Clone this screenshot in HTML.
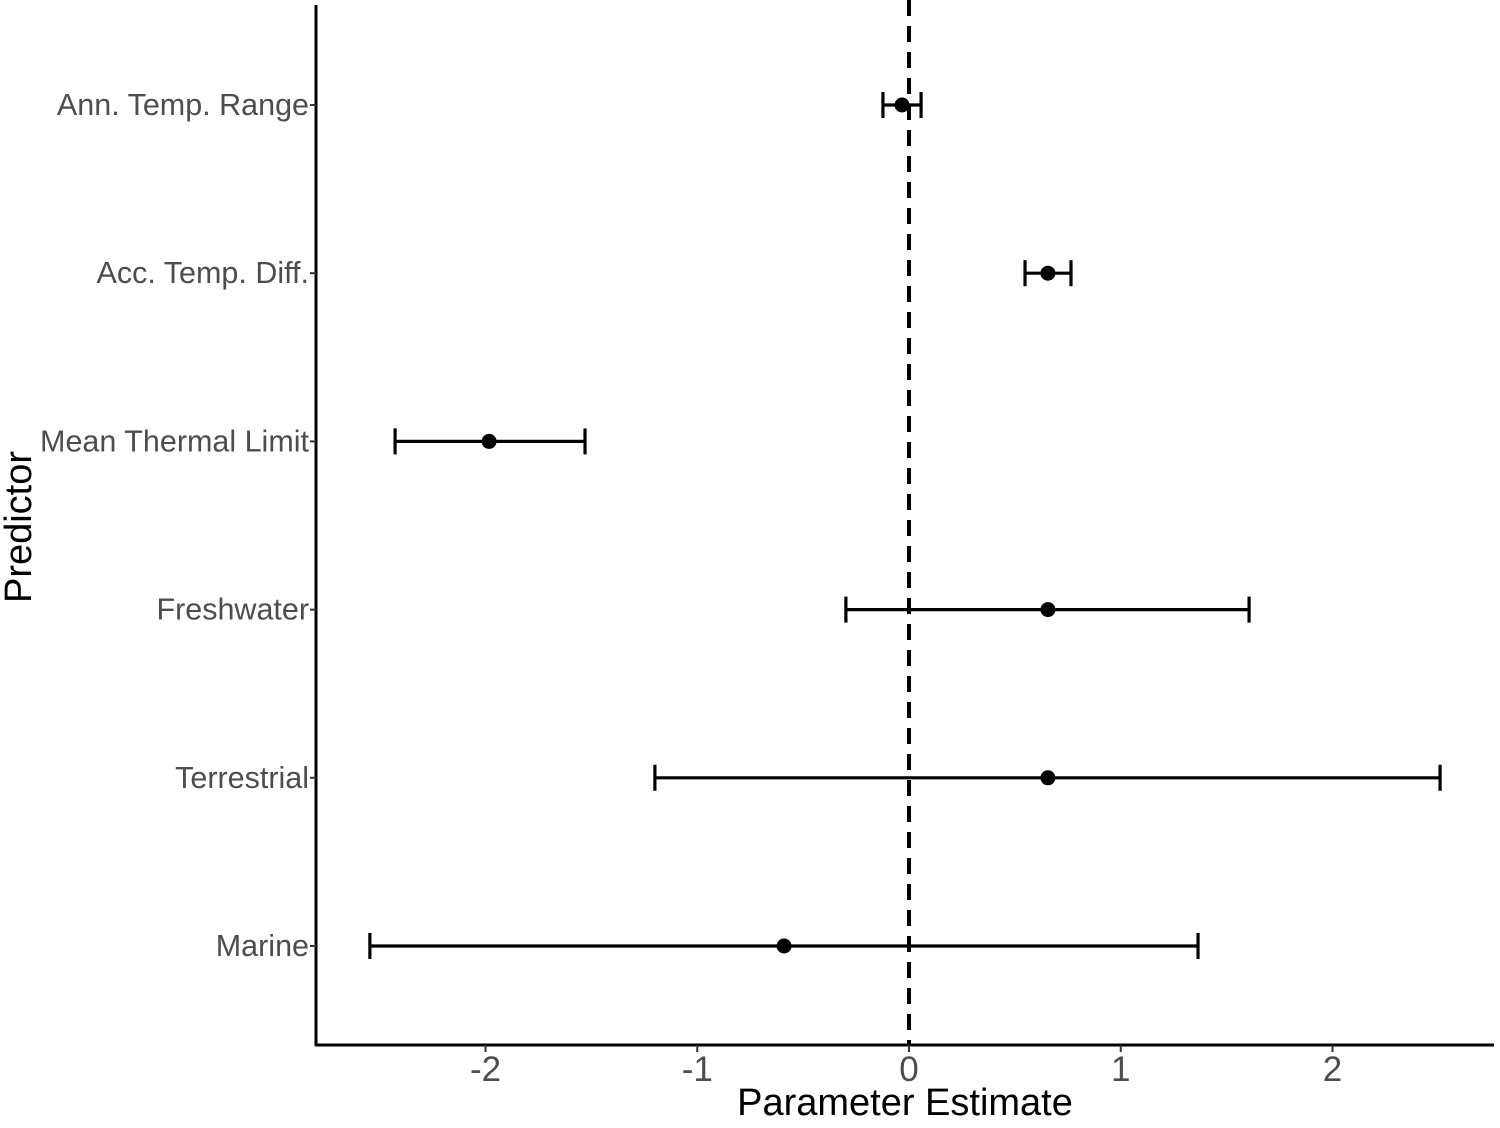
<!DOCTYPE html>
<html><head><meta charset="utf-8">
<style>
html,body{margin:0;padding:0;background:#fff;}
svg{display:block;font-family:"Liberation Sans",Arial,sans-serif;}
</style></head>
<body>
<svg id="chart" width="1500" height="1128" viewBox="0 0 1500 1128" xmlns="http://www.w3.org/2000/svg"></svg>
<script>
const categories = ["Ann. Temp. Range","Acc. Temp. Diff.","Mean Thermal Limit","Freshwater","Terrestrial","Marine"];
const estimates = [-0.033, 0.656, -1.983, 0.656, 0.656, -0.59];
const lowerCI = [-0.123, 0.548, -2.427, -0.298, -1.2, -2.546];
const upperCI = [0.057, 0.765, -1.53, 1.606, 2.508, 1.365];
const xTicks = [-2, -1, 0, 1, 2];
const xTickLabels = ["-2","-1","0","1","2"];

const NS = "http://www.w3.org/2000/svg";
const svg = document.getElementById("chart");
const x0 = 909, xUnit = 211.75;
function xScale(v){ return x0 + v * xUnit; }
const rowTop = 105, rowStep = 168.2;
function yScale(i){ return rowTop + i * rowStep; }
function mk(tag, attrs){ const e=document.createElementNS(NS,tag); for(const k in attrs) e.setAttribute(k, attrs[k]); svg.appendChild(e); return e; }

// axes
let ya = mk("line",{x1:316,x2:316,y1:5,y2:1046,stroke:"#000","stroke-width":3});


let xa = mk("line",{x1:315,x2:1494,y1:1045,y2:1045,stroke:"#000","stroke-width":3});



// x ticks
xTicks.forEach((t,i)=>{
  const x = xScale(t);
  let tk = mk("line",{x1:x,x2:x,y1:1045,y2:1052,stroke:"#333","stroke-width":2});
  
  
  let tl = mk("text",{x:x,y:1081,"text-anchor":"middle","font-size":35,fill:"#4d4d4d"});
  tl.textContent = xTickLabels[i];
  
  
});

// categories
categories.forEach((c,i)=>{
  const y = yScale(i);
  let tk = mk("line",{x1:310,x2:316,y1:y,y2:y,stroke:"#333","stroke-width":2});
  
  
  let tl = mk("text",{x:309,y:y+10,"text-anchor":"end","font-size":30.5,fill:"#4d4d4d"});
  tl.textContent = c;
  
  

  const xl = xScale(lowerCI[i]), xu = xScale(upperCI[i]);
  let bar = mk("line",{x1:xl,x2:xu,y1:y,y2:y,stroke:"#000","stroke-width":3.2});
  
  
  let c1 = mk("line",{x1:xl,x2:xl,y1:y-13,y2:y+13,stroke:"#000","stroke-width":3.2});
  
  
  let c2 = mk("line",{x1:xu,x2:xu,y1:y-13,y2:y+13,stroke:"#000","stroke-width":3.2});
  
  
  let pt = mk("circle",{cx:xScale(estimates[i]),cy:y,r:7.5,fill:"#000"});
  
  
});

// zero reference line
let z = mk("line",{x1:xScale(0),x2:xScale(0),y1:0,y2:1045,stroke:"#000","stroke-width":4,"stroke-dasharray":"16,10"});



let xt = mk("text",{x:905,y:1115,"text-anchor":"middle","font-size":38,fill:"#000"});
xt.textContent = "Parameter Estimate";


let yt = mk("text",{x:0,y:0,"text-anchor":"middle","font-size":38,fill:"#000",transform:"translate(31,527) rotate(-90)"});
yt.textContent = "Predictor";


</script>
</body></html>
